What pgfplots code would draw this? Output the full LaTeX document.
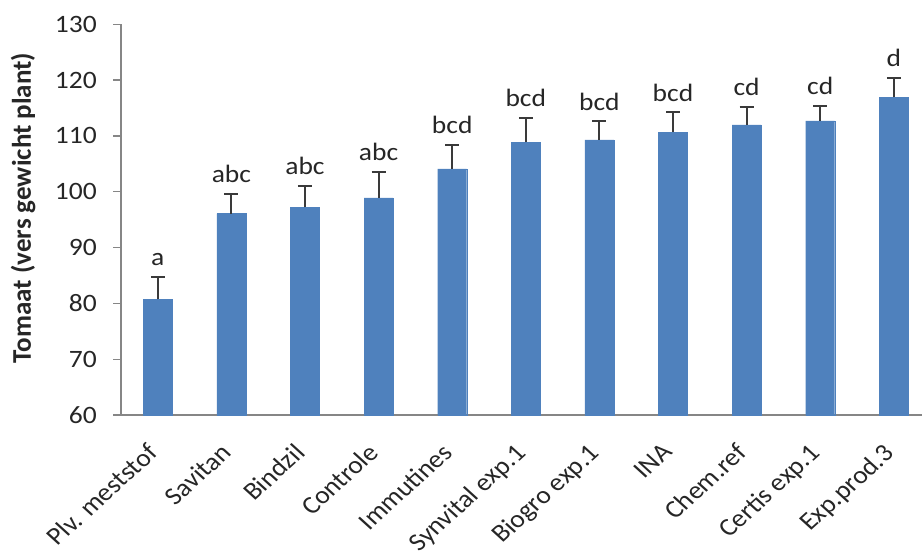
\documentclass[border=0pt]{standalone}
\usepackage{fontspec}
\setmainfont{Carlito}[FakeStretch=1.1]
\newfontfamily\plainfont{Carlito}
\usepackage{pgfplots}
\usepackage{pgfplotstable}
\pgfplotsset{compat=1.18}
\definecolor{barblue}{HTML}{4F81BD}
\definecolor{axgray}{HTML}{868686}
\definecolor{errgray}{HTML}{3A3A3A}
\definecolor{txt}{HTML}{262626}
\pgfplotstableread{
x y err top lab
0 80.7 4.1 84.8 a
1 96.1 3.5 99.6 abc
2 97.2 3.8 101.0 abc
3 98.9 4.6 103.5 abc
4 104.1 4.3 108.4 bcd
5 108.9 4.4 113.3 bcd
6 109.3 3.3 112.6 bcd
7 110.7 3.5 114.2 bcd
8 112.0 3.2 115.2 cd
9 112.7 2.7 115.4 cd
10 116.9 3.5 120.4 d
}\datatable
\begin{document}
\begin{tikzpicture}
\begin{axis}[name=ax, at={(0,0)}, anchor=south west,
  scale only axis, width=809.6pt, height=390.7pt,
  xmin=-0.5, xmax=10.5, ymin=60, ymax=130,
  axis x line*=bottom, axis y line*=left,
  axis line style={axgray, line width=1.3pt, -},
  /pgf/number format/assume math mode=true,
  ytick={60,70,...,130},
  xtick={0,...,10},
  xticklabels={Plv. meststof, Savitan, Bindzil, Controle, Immutines, Synvital exp.1, Biogro exp.1, INA, Chem.ref, Certis exp.1, Exp.prod.3},
  xtick style={draw=none},
  extra x ticks={-0.5,0.5,...,10.5},
  extra x tick labels={},
  extra x tick style={tick style={draw=axgray, line width=1.3pt}},
  ytick style={draw=axgray, line width=1.3pt},
  tick align=outside, major tick length=8pt,
  yticklabel style={anchor=east, inner sep=0pt, xshift=-16pt, text=txt, font=\fontsize{25}{30}\selectfont},
  xticklabel style={xshift=-12pt, yshift=-19pt, xscale=1.1, rotate=45, anchor=north east, inner sep=0pt, text=txt, font=\plainfont\fontsize{25}{30}\selectfont},
  ylabel={\bfseries Tomaat (vers gewicht plant)},
  ylabel style={at={(axis description cs:-0.121,0.53)}, anchor=center, text=txt, font=\plainfont\fontsize{27}{30}\selectfont},
  clip=false,
]
\addplot[ybar, bar width=29pt, fill=barblue, draw=barblue,
  error bars/.cd, y dir=plus, y explicit,
  error bar style={errgray, line width=2pt},
  error mark options={errgray, line width=2pt, mark size=7pt, rotate=90}]
  table[x=x, y=y, y error=err] {\datatable};
\addplot[draw=none, mark=none, nodes near coords, point meta=explicit symbolic,
  nodes near coords style={anchor=south, inner sep=0pt, yshift=11pt, text=txt, font=\fontsize{25}{30}\selectfont}]
  table[x=x, y=top, meta=lab] {\datatable};
\end{axis}
\pgfresetboundingbox
\path[use as bounding box] (ax.south west) ++(-121pt,-141pt) rectangle ++(922pt,556pt);
\end{tikzpicture}
\end{document}
